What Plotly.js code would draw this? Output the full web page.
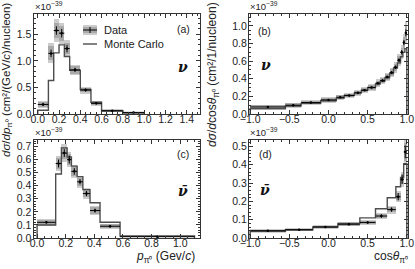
<!DOCTYPE html>
<html><head><meta charset="utf-8">
<script src="https://cdn.plot.ly/plotly-3.0.1.min.js"></script>
<style>html,body{margin:0;padding:0;background:#fff}#c{width:415px;height:269px}</style>
</head><body><div id="c"></div>
<script>
// ---- Panel (a): nu, d sigma / d p_pi0 ----
const aEdges = [0, 0.1, 0.15, 0.2, 0.25, 0.3, 0.4, 0.5, 0.6, 0.8, 1.0];
const aData  = [0.18, 1.14, 1.57, 1.52, 1.23, 0.83, 0.45, 0.20, 0.06, 0.03];
const aStat  = [0.03, 0.07, 0.08, 0.08, 0.07, 0.04, 0.03, 0.02, 0.01, 0.01];
const aOuter = [0.06, 0.19, 0.22, 0.20, 0.16, 0.10, 0.065, 0.05, 0.025, 0.015];
const aInner = [0.04, 0.13, 0.15, 0.14, 0.11, 0.07, 0.045, 0.035, 0.017, 0.01];
const aMC    = [0.07, 0.63, 1.15, 1.30, 1.08, 0.82, 0.46, 0.22, 0.06, 0.02];
// ---- Panel (b): nu, d sigma / d cos theta ----
const bEdges = [-1, -0.55, -0.35, -0.1, 0.1, 0.2, 0.33, 0.42, 0.5, 0.6, 0.66, 0.72, 0.78, 0.83, 0.88, 0.92, 0.95, 0.975, 1.0];
const bData  = [0.08, 0.10, 0.13, 0.16, 0.19, 0.21, 0.24, 0.27, 0.30, 0.35, 0.38, 0.42, 0.47, 0.53, 0.61, 0.70, 0.81, 0.92];
const bStat  = [0.01, 0.01, 0.01, 0.01, 0.01, 0.01, 0.01, 0.01, 0.012, 0.012, 0.014, 0.015, 0.017, 0.02, 0.022, 0.025, 0.03, 0.04];
const bOuter = [0.025, 0.03, 0.03, 0.03, 0.03, 0.03, 0.035, 0.035, 0.04, 0.045, 0.045, 0.05, 0.055, 0.06, 0.07, 0.08, 0.10, 0.13];
const bInner = [0.017, 0.02, 0.02, 0.02, 0.02, 0.02, 0.024, 0.024, 0.027, 0.03, 0.03, 0.034, 0.037, 0.04, 0.047, 0.054, 0.067, 0.087];
const bMC    = [0.06, 0.09, 0.12, 0.15, 0.18, 0.21, 0.24, 0.27, 0.30, 0.34, 0.37, 0.41, 0.46, 0.52, 0.58, 0.65, 0.70, 0.74];
// ---- Panel (c): anti-nu, d sigma / d p_pi0 ----
const cEdges = [0, 0.13, 0.17, 0.21, 0.24, 0.28, 0.32, 0.37, 0.44, 0.58, 1.1];
const cData  = [0.12, 0.57, 0.65, 0.60, 0.51, 0.43, 0.34, 0.21, 0.09, 0.01];
const cStat  = [0.01, 0.03, 0.03, 0.03, 0.025, 0.02, 0.02, 0.015, 0.01, 0.003];
const cOuter = [0.025, 0.06, 0.07, 0.06, 0.05, 0.045, 0.04, 0.035, 0.02, 0.004];
const cInner = [0.017, 0.04, 0.047, 0.04, 0.034, 0.03, 0.027, 0.024, 0.014, 0.003];
const cMC    = [0.10, 0.49, 0.69, 0.62, 0.55, 0.47, 0.37, 0.27, 0.12, 0.015];
// ---- Panel (d): anti-nu, d sigma / d cos theta ----
const dEdges = [-1, -0.55, -0.2, 0.12, 0.4, 0.6, 0.75, 0.86, 0.92, 0.96, 1.0];
const dData  = [0.04, 0.045, 0.06, 0.075, 0.085, 0.12, 0.155, 0.225, 0.32, 0.47];
const dStat  = [0.003, 0.003, 0.004, 0.005, 0.006, 0.01, 0.012, 0.02, 0.025, 0.035];
const dOuter = [0.008, 0.008, 0.01, 0.012, 0.015, 0.018, 0.022, 0.03, 0.04, 0.07];
const dInner = [0.005, 0.005, 0.007, 0.008, 0.01, 0.012, 0.015, 0.02, 0.027, 0.047];
const dMC    = [0.035, 0.045, 0.06, 0.08, 0.11, 0.16, 0.22, 0.28, 0.33, 0.405];

const W = 415, H = 269;
const PX = p => p / W, PY = p => 1 - p / H;
const FONT = 'Liberation Sans, Arial, Helvetica, sans-serif';

function panelTraces(edges, data, stat, outer, inner, mc, xa, ya) {
  const cen = [], wid = [], half = [];
  for (let i = 0; i < data.length; i++) {
    cen.push((edges[i] + edges[i + 1]) / 2);
    wid.push(edges[i + 1] - edges[i]);
    half.push((edges[i + 1] - edges[i]) / 2);
  }
  const box = (err, col) => ({
    type: 'bar', x: cen, width: wid,
    base: data.map((v, i) => v - err[i]), y: err.map(e => 2 * e),
    marker: {color: col, line: {width: 0}}, xaxis: xa, yaxis: ya,
    showlegend: false, hoverinfo: 'skip'
  });
  const hx = [edges[0]], hy = [0];
  for (let i = 0; i < mc.length; i++) { hx.push(edges[i]); hy.push(mc[i]); }
  hx.push(edges[edges.length - 1]); hy.push(mc[mc.length - 1]);
  hx.push(edges[edges.length - 1]); hy.push(0);
  const mcTrace = {
    type: 'scatter', mode: 'lines', x: hx, y: hy,
    line: {shape: 'hv', color: '#4d4d4d', width: 1.4},
    xaxis: xa, yaxis: ya, showlegend: false, hoverinfo: 'skip'
  };
  const dataTrace = {
    type: 'scatter', mode: 'markers', x: cen, y: data,
    marker: {color: '#000', size: 2.5},
    error_x: {type: 'data', array: half, visible: true, color: '#000', thickness: 1, width: 0},
    error_y: {type: 'data', array: stat, visible: true, color: '#000', thickness: 1, width: 0},
    xaxis: xa, yaxis: ya, showlegend: false, hoverinfo: 'skip'
  };
  return [box(outer, '#cccccc'), box(inner, '#a9a9a9'), mcTrace, dataTrace];
}

const traces = [].concat(
  panelTraces(aEdges, aData, aStat, aOuter, aInner, aMC, 'x', 'y'),
  panelTraces(bEdges, bData, bStat, bOuter, bInner, bMC, 'x2', 'y2'),
  panelTraces(cEdges, cData, cStat, cOuter, cInner, cMC, 'x3', 'y3'),
  panelTraces(dEdges, dData, dStat, dOuter, dInner, dMC, 'x4', 'y4')
);

function ax(extra) {
  return Object.assign({
    showline: true, mirror: 'allticks', linecolor: '#333', linewidth: 1,
    ticks: 'inside', ticklen: 4, tickwidth: 1, tickcolor: '#333',
    showgrid: false, zeroline: false, tickformat: '.1f',
    tickfont: {family: FONT, size: 10.5, color: '#222'},
    fixedrange: true
  }, extra);
}
const minor = (d) => ({ticks: 'inside', ticklen: 2, tickcolor: '#333', dtick: d, showgrid: false});
const XS = -5, YS = -1;

const domL = [PX(33.5), PX(199.5)], domR = [PX(249), PX(408)];
const domT = [PY(114), PY(13.5)], domB = [PY(238), PY(140)];

const sup = '×10<sup>−39</sup>';
const ann = (x, y, text, opt) => Object.assign({
  xref: 'paper', yref: 'paper', x: PX(x), y: PY(y), text: text, showarrow: false,
  xanchor: 'center', yanchor: 'middle', font: {family: FONT, size: 10.5, color: '#222'}
}, opt || {});
const nuFont = {family: 'DejaVu Serif, Liberation Serif, serif', size: 14, color: '#111'};
const titleFont = {family: FONT, size: 12, color: '#222'};
const leftTitleFont = {family: FONT, size: 11.5, color: '#222'};

const layout = {
  width: W, height: H, autosize: false,
  margin: {l: 0, r: 0, t: 0, b: 0},
  paper_bgcolor: '#fff', plot_bgcolor: '#fff',
  barmode: 'overlay', bargap: 0, showlegend: false,
  xaxis:  ax({domain: domL, anchor: 'y',  range: [-0.04, 1.52], dtick: 0.2, tick0: 0, minor: minor(0.05), ticklabelstandoff: XS}),
  yaxis:  ax({domain: domT, anchor: 'x',  range: [0, 1.89], dtick: 0.5, tick0: 0, minor: minor(0.1), ticklabelstandoff: YS}),
  xaxis2: ax({domain: domR, anchor: 'y2', range: [-1.015, 1.015], dtick: 0.5, tick0: 0, minor: minor(0.1), ticklabelstandoff: XS}),
  yaxis2: ax({domain: domT, anchor: 'x2', range: [0, 1.14], dtick: 0.2, tick0: 0, minor: minor(0.05), ticklabelstandoff: YS}),
  xaxis3: ax({domain: domL, anchor: 'y3', range: [-0.025, 1.135], dtick: 0.2, tick0: 0, minor: minor(0.05), ticklabelstandoff: XS}),
  yaxis3: ax({domain: domB, anchor: 'x3', range: [0, 0.75], dtick: 0.1, tick0: 0, minor: minor(0.02), ticklabelstandoff: YS}),
  xaxis4: ax({domain: domR, anchor: 'y4', range: [-1.015, 1.015], dtick: 0.5, tick0: 0, minor: minor(0.1), ticklabelstandoff: XS}),
  yaxis4: ax({domain: domB, anchor: 'x4', range: [0, 0.535], dtick: 0.1, tick0: 0, minor: minor(0.02), ticklabelstandoff: YS}),
  shapes: [
    {type: 'rect', xref: 'paper', yref: 'paper', x0: PX(83), x1: PX(97), y0: PY(35), y1: PY(25), fillcolor: '#cccccc', line: {width: 0}},
    {type: 'rect', xref: 'paper', yref: 'paper', x0: PX(83), x1: PX(97), y0: PY(33), y1: PY(27), fillcolor: '#a9a9a9', line: {width: 0}},
    {type: 'line', xref: 'paper', yref: 'paper', x0: PX(83), x1: PX(97), y0: PY(30), y1: PY(30), line: {color: '#000', width: 1}},
    {type: 'line', xref: 'paper', yref: 'paper', x0: PX(90), x1: PX(90), y0: PY(27), y1: PY(33), line: {color: '#000', width: 1}},
    {type: 'line', xref: 'paper', yref: 'paper', x0: PX(83), x1: PX(97), y0: PY(44), y1: PY(44), line: {color: '#4d4d4d', width: 1.4}}
  ],
  annotations: [
    ann(102, 30, 'Data', {xanchor: 'left', font: {family: FONT, size: 11, color: '#222'}}),
    ann(102, 44, 'Monte Carlo', {xanchor: 'left', font: {family: FONT, size: 11, color: '#222'}}),
    ann(33, 6, sup, {xanchor: 'left', font: {family: FONT, size: 9.5, color: '#222'}}),
    ann(248, 6, sup, {xanchor: 'left', font: {family: FONT, size: 9.5, color: '#222'}}),
    ann(33, 132, sup, {xanchor: 'left', font: {family: FONT, size: 9.5, color: '#222'}}),
    ann(248, 132, sup, {xanchor: 'left', font: {family: FONT, size: 9.5, color: '#222'}}),
    ann(183, 29, '(a)'), ann(264, 31, '(b)'), ann(183, 154, '(c)'), ann(265, 154, '(d)'),
    ann(183, 67, '<b><i>ν</i></b>', {font: nuFont}),
    ann(266, 65, '<b><i>ν</i></b>', {font: nuFont}),
    ann(183, 191, '<b><i>ν̄</i></b>', {font: nuFont}),
    ann(265, 190, '<b><i>ν̄</i></b>', {font: nuFont}),
    ann(7, 80, '<i>dσ</i>/<i>dp</i><sub>π⁰</sub> (cm²/(GeV/<i>c</i>)/nucleon)', {textangle: -90, font: leftTitleFont}),
    ann(213, 74, '<i>dσ</i>/<i>d</i>cos<i>θ</i><sub>π⁰</sub> (cm²/1/nucleon)', {textangle: -90, font: titleFont}),
    ann(197, 257, '<i>p</i><sub>π⁰</sub> (Gev/<i>c</i>)', {xanchor: 'right', font: titleFont}),
    ann(410, 257, 'cos<i>θ</i><sub>π⁰</sub>', {xanchor: 'right', font: titleFont})
  ]
};

Plotly.newPlot('c', traces, layout, {staticPlot: true, displayModeBar: false});
</script></body></html>
